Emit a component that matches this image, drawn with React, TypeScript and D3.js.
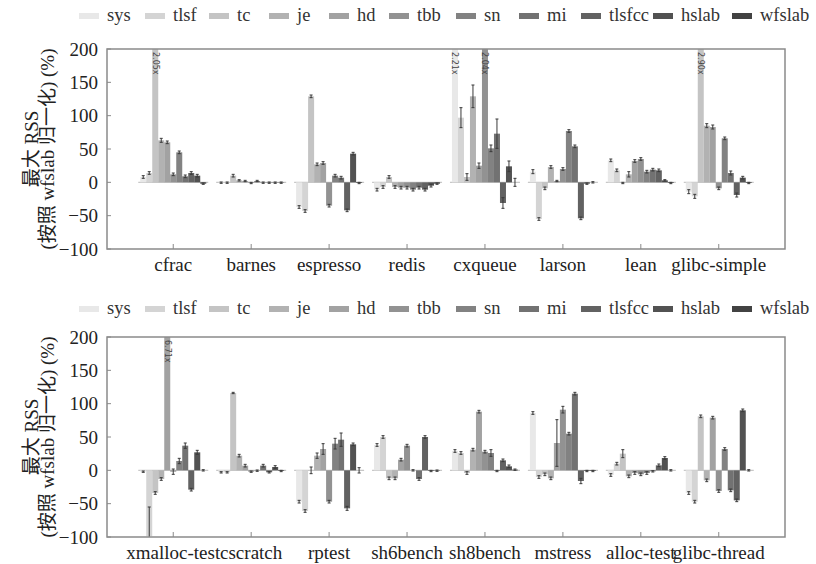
import React from "react";
import { scaleLinear } from "d3";

const series = ["sys", "tlsf", "tc", "je", "hd", "tbb", "sn", "mi", "tlsfcc", "hslab", "wfslab"];
const seriesColors = ["#e8e8e8", "#d4d4d4", "#c4c4c4", "#b2b2b2", "#a2a2a2", "#929292", "#828282", "#727272", "#626262", "#525252", "#424242"];

const topCategories = ["cfrac", "barnes", "espresso", "redis", "cxqueue", "larson", "lean", "glibc-simple"];
const bottomCategories = ["xmalloc-test", "cscratch", "rptest", "sh6bench", "sh8bench", "mstress", "alloc-test", "glibc-thread"];

// max RSS normalized to wfslab (%), one row per category, columns follow `series`
const topValues = [
  [8, 14, 205, 63, 60, 12, 45, 9, 14, 10, -2],
  [-0.5, -0.5, 10, 3, 2, -1, 2, -0.5, -0.5, -0.5, -0.5],
  [-37, -43, 129, 27, 29, -35, 10, 7, -42, 43, -1],
  [-11, -7, 8, -7, -8, -8, -11, -8, -11, -5, -2],
  [221, 97, 8, 129, 25, 204, 51, 73, -31, 24, 0],
  [16, -55, -9, 23, 2, 20, 77, 54, -54, -2, 0],
  [33, 18, -1, 12, 32, 35, 16, 19, 18, 3, -1],
  [-14, -21, 290, 85, 83, -9, 66, 14, -19, 7, -1],
];
const topErrors = [
  [2, 2, 0, 3, 2, 2, 2, 2, 2, 2, 1],
  [1, 1, 2, 1, 1, 1, 1, 1, 1, 1, 1],
  [2, 2, 2, 2, 2, 2, 2, 2, 2, 2, 1],
  [2, 2, 2, 2, 2, 2, 2, 2, 2, 2, 1],
  [0, 15, 5, 17, 4, 0, 5, 22, 8, 8, 6],
  [3, 2, 2, 2, 1, 2, 2, 2, 2, 1, 1],
  [2, 2, 1, 4, 2, 2, 2, 2, 2, 1, 1],
  [3, 3, 0, 3, 3, 2, 2, 3, 3, 2, 1],
];
const bottomValues = [
  [-2, -99, -34, -13, 671, -2, 14, 37, -29, 27, 0],
  [-3, -3, 116, 22, 7, -2, -0.5, 7, -3, 5, -1],
  [-47, -61, 0, 22, 32, -47, 40, 46, -57, 39, 0],
  [38, 50, -12, -12, 16, 37, 0, -13, 50, -1, -0.5],
  [29, 26, -4, 31, 88, 28, 26, -1, 15, 6, 1],
  [86, -10, -6, -12, 41, 91, 55, 115, -16, -1, -1],
  [-7, 10, 25, -9, -4, -6, -4, -1.5, 7.5, 18.5, 0],
  [-34, -47, 81, -15, 79, -31, 32, -30, -45, 90, 0],
];
const bottomErrors = [
  [1, 44, 2, 2, 0, 4, 4, 4, 2, 3, 1],
  [1, 1, 1, 2, 2, 1, 1, 2, 1, 2, 1],
  [2, 2, 5, 4, 8, 2, 8, 10, 3, 2, 4],
  [2, 2, 2, 2, 2, 2, 1, 2, 2, 1, 1],
  [2, 2, 2, 2, 2, 2, 5, 1, 2, 2, 1],
  [2, 2, 2, 2, 35, 5, 2, 2, 4, 1, 1],
  [2, 2, 6, 2, 2, 2, 2, 1, 2, 2, 1],
  [2, 2, 2, 2, 2, 2, 2, 2, 2, 2, 1],
];

const yTicks = [-100, -50, 0, 50, 100, 150, 200];

const width = 816,
  height = 564,
  marginLeft = 107,
  marginRight = 785,
  barWidth = 0.077;
// legend label x positions (layout)
const legendX = [107, 173, 237, 297, 357, 417, 484, 547, 609, 681, 760];
const font = "Liberation Serif, Tinos, Times New Roman, Times, DejaVu Serif, Noto Serif, serif";
const cjkFont = "Liberation Serif, Tinos, Times New Roman, Noto Sans CJK SC, serif";

const x = scaleLinear().domain([-0.85, 7.85]).range([marginLeft, marginRight]);

function Legend({ y }: { y: number }) {
  return (
    <g>
      {series.map((s, k) => (
        <g key={s}>
          <rect x={legendX[k] - 28} y={y - 3} width={20} height={6} fill={seriesColors[k]} />
          <text x={legendX[k]} y={y + 5} style={{ fontFamily: font, fontSize: 18.5 }} fill="#333">
            {s}
          </text>
        </g>
      ))}
    </g>
  );
}

function Panel({ id, categories, values, errors, top, bottom }: any) {
  const y = scaleLinear().domain([-100, 200]).range([bottom, top]);
  const bw = x(barWidth) - x(0);
  const clip = (v: number) => Math.max(-100, Math.min(200, v));
  return (
    <g>
      <defs>
        <clipPath id={id}>
          <rect x={marginLeft} y={top} width={marginRight - marginLeft} height={bottom - top} />
        </clipPath>
      </defs>
      <g clipPath={`url(#${id})`}>
        {categories.map((c: string, i: number) => {
          const x0 = x(i - 5.5 * barWidth);
          return (
            <g key={c}>
              <line x1={x0 - 2} x2={x0 + 11 * bw + 2} y1={y(0)} y2={y(0)} stroke="#c8c8c8" strokeWidth={1.3} />
              {values[i].map((v: number, j: number) => {
                const bx = x(i + (j - 5.5) * barWidth);
                const cv = clip(v);
                const e = errors[i][j];
                const cx = bx + bw / 2;
                return (
                  <g key={j}>
                    <rect
                      x={bx}
                      y={Math.min(y(0), y(cv))}
                      width={bw}
                      height={Math.abs(y(cv) - y(0))}
                      fill={seriesColors[j]}
                    />
                    {e > 0 && (
                      <g stroke="#3a3a3a" strokeWidth={1}>
                        <line x1={cx} x2={cx} y1={y(v - e)} y2={y(v + e)} />
                        <line x1={cx - 1.5} x2={cx + 1.5} y1={y(v - e)} y2={y(v - e)} />
                        <line x1={cx - 1.5} x2={cx + 1.5} y1={y(v + e)} y2={y(v + e)} />
                      </g>
                    )}
                    {v > 200 && (
                      <text
                        transform={`translate(${cx}, ${top + 3}) rotate(90)`}
                        style={{ fontFamily: "DejaVu Sans, sans-serif", fontSize: 8 }}
                        dominantBaseline="middle"
                        fill="#444"
                      >
                        {(v / 100).toFixed(2) + "x"}
                      </text>
                    )}
                  </g>
                );
              })}
            </g>
          );
        })}
      </g>
      <rect
        x={marginLeft}
        y={top}
        width={marginRight - marginLeft}
        height={bottom - top}
        fill="none"
        stroke="#8a8a8a"
        strokeWidth={1.5}
      />
      {yTicks.map(t => (
        <g key={t}>
          <line x1={marginLeft} x2={marginLeft + 4} y1={y(t)} y2={y(t)} stroke="#8a8a8a" strokeWidth={1} />
          <text
            x={marginLeft - 9}
            y={y(t)}
            textAnchor="end"
            dominantBaseline="central"
            style={{ fontFamily: font, fontSize: 19 }}
            fill="#222"
          >
            {t < 0 ? "\u2212" + Math.abs(t) : t}
          </text>
        </g>
      ))}
      {categories.map((c: string, i: number) => (
        <g key={c}>
          <line x1={x(i)} x2={x(i)} y1={bottom} y2={bottom - 5} stroke="#8a8a8a" strokeWidth={1} />
          <text x={x(i)} y={bottom + 22} textAnchor="middle" style={{ fontFamily: font, fontSize: 19 }} fill="#222">
            {c}
          </text>
        </g>
      ))}
      <text
        transform={`translate(31, ${(top + bottom) / 2}) rotate(-90)`}
        textAnchor="middle"
        dominantBaseline="central"
        style={{ fontFamily: cjkFont, fontSize: 19 }}
        fill="#222"
      >
        最大 RSS
      </text>
      <text
        transform={`translate(47, ${(top + bottom) / 2}) rotate(-90)`}
        textAnchor="middle"
        dominantBaseline="central"
        style={{ fontFamily: cjkFont, fontSize: 19 }}
        fill="#222"
      >
        (按照 wfslab 归一化) (%)
      </text>
    </g>
  );
}

export default function App() {
  return (
    <svg
      width={width}
      height={height}
      style={{ position: "absolute", left: 0, top: 0, background: "#fff" }}
    >
      <Legend y={16} />
      <Panel id="clipTop" categories={topCategories} values={topValues} errors={topErrors} top={49} bottom={249} />
      <Legend y={309} />
      <Panel
        id="clipBottom"
        categories={bottomCategories}
        values={bottomValues}
        errors={bottomErrors}
        top={337}
        bottom={537}
      />
    </svg>
  );
}
